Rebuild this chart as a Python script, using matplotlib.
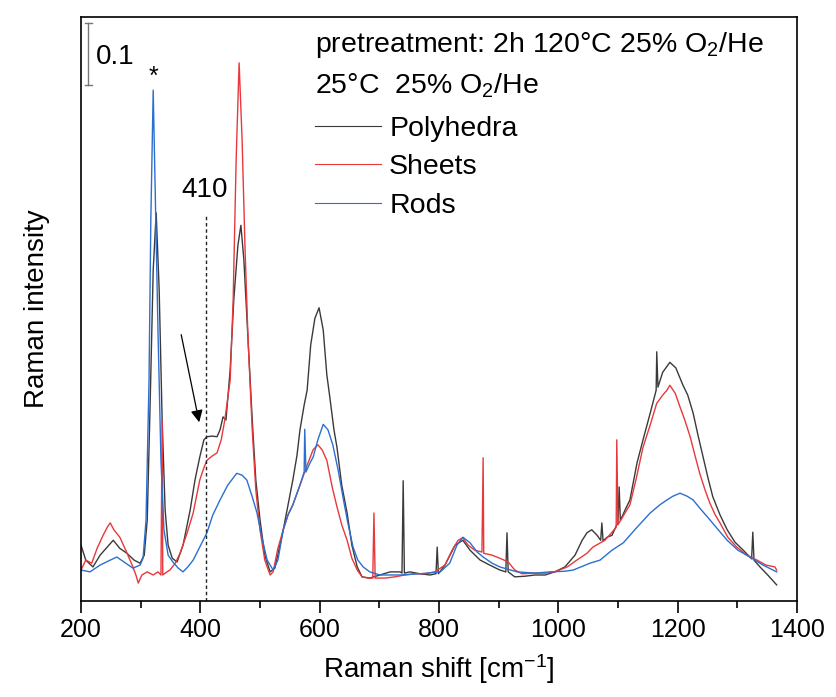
import matplotlib
matplotlib.use("Agg")
import matplotlib.pyplot as plt
from matplotlib.ticker import MultipleLocator

plt.rcParams['font.family'] = ['Liberation Sans', 'DejaVu Sans']
plt.rcParams['mathtext.default'] = 'regular'

# Raman spectra (shift in cm-1, intensity in a.u.)
poly_x = [200, 208, 220, 232, 242, 254, 265, 277, 289, 299, 306, 311, 316, 321, 326, 331, 336, 341,
          346, 353, 361, 371, 383, 391, 399, 406, 411, 420, 428, 433, 438, 443, 450, 456, 463, 468,
          473, 480, 487, 493, 500, 508, 517, 525, 539, 547, 555, 562, 567, 574, 579, 585, 592, 599,
          606, 612, 617, 624, 629, 637, 646, 654, 663, 671, 684, 701, 718, 735, 738, 740, 742, 751,
          768, 785, 795, 797, 799, 810, 827, 840, 852, 869, 885, 902, 912, 914, 916, 927, 944, 961,
          978, 994, 1011, 1028, 1040, 1048, 1056, 1065, 1071, 1073, 1075, 1082, 1090, 1098, 1100,
          1102, 1104, 1112, 1120, 1132, 1142, 1154, 1164, 1165, 1167, 1175, 1187, 1197, 1209, 1217,
          1226, 1234, 1242, 1251, 1259, 1271, 1283, 1296, 1310, 1321, 1324, 1326, 1328, 1338, 1351,
          1363, 1366]
poly_y = [0.090, 0.066, 0.055, 0.074, 0.085, 0.098, 0.085, 0.077, 0.066, 0.061, 0.074, 0.131, 0.324,
          0.534, 0.626, 0.502, 0.292, 0.147, 0.090, 0.069, 0.063, 0.090, 0.147, 0.195, 0.232, 0.260,
          0.265, 0.266, 0.265, 0.276, 0.297, 0.292, 0.373, 0.485, 0.574, 0.606, 0.550, 0.421, 0.292,
          0.195, 0.131, 0.074, 0.047, 0.053, 0.115, 0.155, 0.195, 0.235, 0.276, 0.316, 0.340, 0.413,
          0.456, 0.473, 0.437, 0.365, 0.329, 0.276, 0.248, 0.187, 0.142, 0.090, 0.055, 0.039, 0.037,
          0.042, 0.047, 0.047, 0.045, 0.194, 0.045, 0.047, 0.044, 0.042, 0.044, 0.087, 0.044, 0.058,
          0.090, 0.098, 0.082, 0.066, 0.058, 0.050, 0.047, 0.110, 0.047, 0.039, 0.040, 0.042, 0.042,
          0.047, 0.055, 0.074, 0.098, 0.110, 0.115, 0.106, 0.098, 0.126, 0.097, 0.103, 0.106, 0.123,
          0.125, 0.184, 0.130, 0.147, 0.163, 0.223, 0.260, 0.303, 0.340, 0.402, 0.345, 0.369, 0.385,
          0.376, 0.348, 0.332, 0.303, 0.268, 0.235, 0.198, 0.168, 0.139, 0.115, 0.095, 0.082, 0.071,
          0.068, 0.111, 0.066, 0.055, 0.042, 0.029, 0.026]

sheet_x = [200, 208, 218, 227, 237, 244, 249, 255, 265, 275, 287, 292, 296, 302, 311, 321, 329, 334,
           336, 337, 344, 349, 358, 366, 378, 388, 399, 406, 411, 420, 428, 435, 441, 450, 455, 460,
           465, 470, 475, 480, 487, 493, 500, 508, 517, 522, 530, 539, 547, 555, 567, 579, 589, 597,
           604, 612, 621, 629, 637, 646, 654, 663, 671, 681, 689, 691, 693, 710, 726, 743, 760, 777,
           793, 810, 822, 832, 840, 849, 860, 872, 874, 875, 889, 902, 916, 927, 939, 961, 978, 994,
           1015, 1031, 1048, 1058, 1078, 1090, 1097, 1098, 1100, 1107, 1113, 1120, 1130, 1142, 1154,
           1165, 1175, 1182, 1187, 1196, 1204, 1212, 1221, 1229, 1237, 1246, 1254, 1263, 1271, 1284,
           1299, 1316, 1333, 1348, 1363, 1366]
sheet_y = [0.050, 0.066, 0.061, 0.085, 0.106, 0.119, 0.126, 0.115, 0.103, 0.082, 0.055, 0.042, 0.029,
           0.042, 0.047, 0.042, 0.047, 0.042, 0.292, 0.042, 0.047, 0.050, 0.061, 0.077, 0.110, 0.142,
           0.195, 0.215, 0.227, 0.234, 0.239, 0.260, 0.292, 0.356, 0.485, 0.711, 0.868, 0.744, 0.566,
           0.421, 0.276, 0.179, 0.115, 0.066, 0.042, 0.047, 0.085, 0.115, 0.139, 0.155, 0.187, 0.219,
           0.244, 0.252, 0.244, 0.227, 0.184, 0.152, 0.123, 0.098, 0.069, 0.050, 0.039, 0.037, 0.037,
           0.142, 0.037, 0.037, 0.039, 0.042, 0.044, 0.044, 0.047, 0.058, 0.082, 0.098, 0.102, 0.090,
           0.082, 0.079, 0.231, 0.077, 0.074, 0.069, 0.063, 0.050, 0.044, 0.045, 0.045, 0.047, 0.055,
           0.066, 0.077, 0.087, 0.098, 0.111, 0.119, 0.260, 0.123, 0.134, 0.144, 0.155, 0.195, 0.248,
           0.284, 0.319, 0.332, 0.340, 0.348, 0.335, 0.313, 0.292, 0.265, 0.235, 0.206, 0.179, 0.158,
           0.139, 0.126, 0.103, 0.087, 0.074, 0.066, 0.058, 0.055, 0.050]

rod_x = [200, 215, 232, 249, 260, 272, 287, 299, 304, 309, 314, 317, 321, 324, 329, 334, 339, 346,
         354, 363, 371, 379, 388, 399, 411, 421, 433, 446, 461, 470, 478, 487, 495, 503, 512, 522,
         530, 539, 547, 555, 567, 574, 575, 577, 584, 589, 597, 606, 614, 622, 631, 639, 647, 656,
         664, 673, 684, 701, 735, 768, 802, 818, 830, 840, 852, 864, 874, 889, 902, 931, 961, 986,
         1011, 1025, 1053, 1070, 1090, 1109, 1132, 1154, 1170, 1182, 1192, 1204, 1216, 1226, 1237,
         1254, 1268, 1283, 1301, 1321, 1343, 1366]
rod_y = [0.050, 0.047, 0.058, 0.066, 0.071, 0.063, 0.053, 0.058, 0.069, 0.131, 0.356, 0.613, 0.824,
         0.679, 0.437, 0.227, 0.115, 0.074, 0.063, 0.053, 0.047, 0.055, 0.066, 0.087, 0.110, 0.139,
         0.163, 0.187, 0.206, 0.203, 0.195, 0.168, 0.142, 0.103, 0.066, 0.050, 0.066, 0.115, 0.139,
         0.155, 0.187, 0.208, 0.277, 0.208, 0.223, 0.232, 0.260, 0.285, 0.276, 0.252, 0.211, 0.168,
         0.127, 0.087, 0.066, 0.055, 0.047, 0.042, 0.042, 0.044, 0.047, 0.061, 0.090, 0.103, 0.094,
         0.079, 0.071, 0.061, 0.055, 0.047, 0.045, 0.047, 0.048, 0.050, 0.061, 0.066, 0.082, 0.094,
         0.119, 0.142, 0.155, 0.163, 0.169, 0.174, 0.169, 0.163, 0.150, 0.131, 0.115, 0.098, 0.082,
         0.071, 0.058, 0.047]

labels = ['Polyhedra', 'Sheets', 'Rods']
colors = ['#3a3a3a', '#e8383c', '#2b6fd0']

fig = plt.figure(figsize=(8.36, 6.97), dpi=100)
ax = fig.add_axes([0.0969, 0.1377, 0.8564, 0.8379])

l1, = ax.plot(poly_x, poly_y, color=colors[0], lw=1.0)
l2, = ax.plot(sheet_x, sheet_y, color=colors[1], lw=1.0)
l3, = ax.plot(rod_x, rod_y, color=colors[2], lw=1.0)

ax.set_xlim(200, 1400)
ax.set_ylim(0, 0.942)
ax.set_yticks([])
ax.xaxis.set_major_locator(MultipleLocator(200))
ax.xaxis.set_minor_locator(MultipleLocator(100))
ax.tick_params(axis='x', which='major', direction='out', length=8.5, width=1.2, labelsize=18, pad=4)
ax.tick_params(axis='x', which='minor', direction='out', length=5, width=1.2)
for s in ax.spines.values():
    s.set_linewidth(1.2)

ax.set_xlabel('Raman shift [cm$^{-1}$]', fontsize=20, labelpad=7)
ax.set_ylabel('Raman intensity', fontsize=20, labelpad=22)

# scale bar
ax.plot([212, 212], [0.832, 0.932], color='#777777', lw=1.0)
ax.plot([206, 218], [0.932, 0.932], color='#777777', lw=1.0)
ax.plot([206, 218], [0.832, 0.832], color='#777777', lw=1.0)
ax.text(225, 0.877, '0.1', fontsize=20, va='center', ha='left')

ax.text(322, 0.845, '*', fontsize=18, ha='center', va='center')
ax.text(408, 0.642, '410', fontsize=20, ha='center', va='bottom')
ax.plot([410, 410], [0, 0.623], color='#222222', lw=1.0, ls=(0, (2.5, 2)))
ax.annotate('', xy=(399, 0.284), xytext=(367, 0.434),
            arrowprops=dict(arrowstyle='-|>', color='black', lw=0.9, mutation_scale=18))

ax.text(0.327, 0.952, 'pretreatment: 2h 120°C 25% O$_2$/He', transform=ax.transAxes,
        fontsize=20.5, va='center', ha='left')
ax.text(0.327, 0.882, '25°C  25% O$_2$/He', transform=ax.transAxes,
        fontsize=20.5, va='center', ha='left')

leg = ax.legend([l1, l2, l3], labels, loc='upper left', bbox_to_anchor=(0.327, 0.831),
                frameon=False, fontsize=20.5, handlelength=2.3, handletextpad=0.3,
                labelspacing=0.44, borderpad=0, borderaxespad=0)
for h in leg.get_lines():
    h.set_linewidth(0.8)

fig.savefig('out.png', dpi=100)
